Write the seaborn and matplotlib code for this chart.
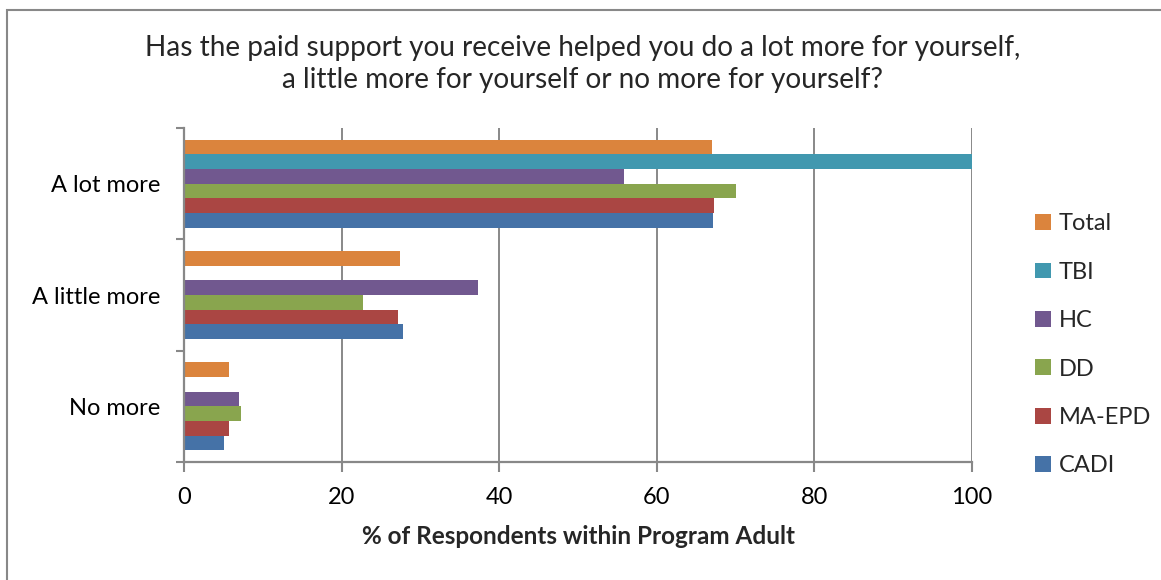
import numpy as np
import pandas as pd
import matplotlib
matplotlib.use("Agg")
import matplotlib.pyplot as plt
from matplotlib.patches import Rectangle
import seaborn as sns

# Survey responses by program (% of respondents)
categories = ["A lot more", "A little more", "No more"]
programs = ["Total", "TBI", "HC", "DD", "MA-EPD", "CADI"]
total = [67.0, 27.4, 5.7]
tbi = [100.0, 0.0, 0.0]
hc = [55.8, 37.3, 7.0]
dd = [70.1, 22.7, 7.2]
ma_epd = [67.2, 27.1, 5.7]
cadi = [67.1, 27.8, 5.1]
x_ticks = [0, 20, 40, 60, 80, 100]

colors = ["#DB843D", "#4198AF", "#71588F", "#89A54E", "#AA4643", "#4572A7"]

series = dict(zip(programs, [total, tbi, hc, dd, ma_epd, cadi]))
df = pd.DataFrame(
    [(cat, prog, vals[i]) for prog, vals in series.items() for i, cat in enumerate(categories)],
    columns=["response", "program", "pct"],
)

sns.set_theme(style="white")
plt.rcParams["font.family"] = ["Lato", "DejaVu Sans"]

W, H = 1161, 580
fig = plt.figure(figsize=(W / 100, H / 100), dpi=100)
ax = fig.add_axes([184 / W, 1 - 462 / H, (972 - 184) / W, (462 - 128) / H])

sns.barplot(
    data=df, x="pct", y="response", hue="program",
    order=categories, hue_order=programs, palette=colors, saturation=1,
    orient="h", width=0.79, linewidth=0, ax=ax, legend=True,
)

grey = "#888888"
ax.set_xlim(0, 100)
ax.set_ylim(2.5, -0.5)
ax.set_xticks(x_ticks)
ax.set_xticklabels([str(t) for t in x_ticks], fontsize=17, color="black")
ax.xaxis.grid(True, color=grey, linewidth=1.4)
ax.yaxis.grid(False)
ax.set_axisbelow(True)
for s in ["top", "right"]:
    ax.spines[s].set_visible(False)
for s in ["left", "bottom"]:
    ax.spines[s].set_color(grey)
    ax.spines[s].set_linewidth(1.6)

ax.set_yticks(range(len(categories)))
ax.set_yticklabels(categories, fontsize=17, color="black")
ax.set_yticks([-0.5, 0.5, 1.5, 2.5], minor=True)
ax.tick_params(axis="y", which="major", length=0, pad=17)
ax.tick_params(axis="y", which="minor", length=6, width=1.5, color=grey, direction="out", left=True)
ax.tick_params(axis="x", which="major", length=7, width=1.5, color=grey, direction="out", bottom=True, pad=11)

ax.set_ylabel("")
ax.set_xlabel("% of Respondents within Program Adult", fontsize=17.5, fontweight="bold", labelpad=12)

handles, labels = ax.get_legend_handles_labels()
ax.legend_.remove()
fig.legend(
    handles, labels, loc="upper left", bbox_to_anchor=(1026 / W, 1 - 204 / H),
    frameon=False, fontsize=17, handlelength=0.65, handleheight=0.65,
    handletextpad=0.35, labelspacing=1.16, borderaxespad=0,
)

fig.text(
    583 / W, 1 - 64 / H,
    "Has the paid support you receive helped you do a lot more for yourself,\n"
    "a little more for yourself or no more for yourself?",
    ha="center", va="center", fontsize=20.2, linespacing=1.25,
)

fig.patches.append(Rectangle(
    (7 / W, -0.02), 1.02, 1.02 - 10 / H,
    transform=fig.transFigure, fill=False, edgecolor=grey, linewidth=1.5,
))

fig.savefig("out.png", dpi=100)
